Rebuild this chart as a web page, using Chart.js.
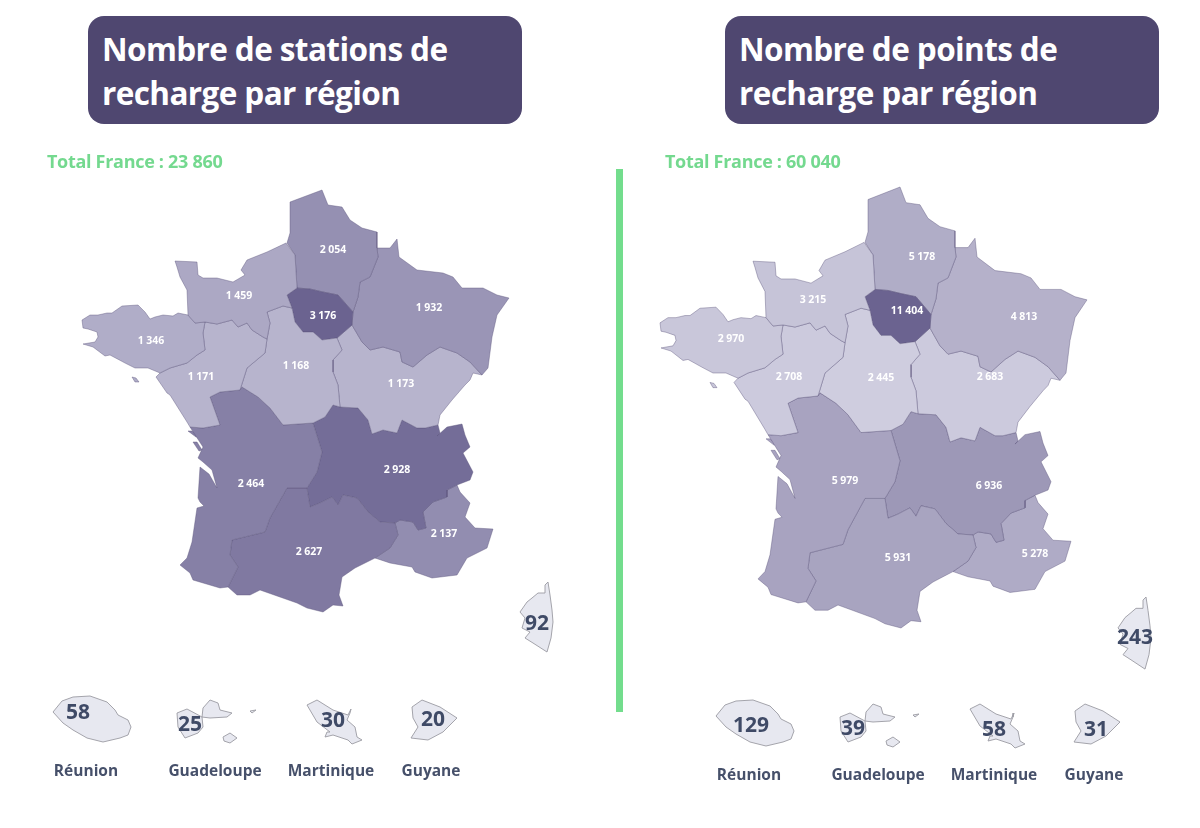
<!DOCTYPE html>
<html lang="fr">
<head>
<meta charset="utf-8">
<title>Stations et points de recharge par région</title>
<script src="https://cdn.jsdelivr.net/npm/chart.js@4"></script>
<style>
  html, body { margin: 0; background: #fff; }
  body { position: relative; width: 1200px; height: 828px; overflow: hidden; font-family: 'Open Sans', sans-serif; }
  canvas { position: absolute; top: 0; }
  #stationsMap { left: 0; }
  #pointsMap { left: 600px; }
  .title { position: absolute; top: 16px; width: 434px; height: 108px; box-sizing: border-box; padding: 11px 0 0 14px;
    background: #4f4770; border-radius: 16px; color: #fff; font-weight: 700; font-size: 31.5px; line-height: 44px; letter-spacing: -0.6px; }
  .total { position: absolute; top: 149px; color: #74d98f; font-weight: 700; font-size: 18px; line-height: 24px; letter-spacing: -0.3px; }
  #divider { position: absolute; left: 616px; top: 169px; width: 7px; height: 543px; background: #73dd8d; }
</style>
</head>
<body>
<canvas id="stationsMap" width="600" height="828"></canvas>
<canvas id="pointsMap" width="600" height="828"></canvas>
<div id="divider"></div>
<div class="title" style="left:88px">Nombre de stations de<br>recharge par région</div>
<div class="title" style="left:725px">Nombre de points de<br>recharge par région</div>
<div class="total" id="stationsTotal" style="left:47px"></div>
<div class="total" id="pointsTotal" style="left:665px"></div>
<script>
// Data
const regions = ['Normandie', 'Bretagne', 'Pays de la Loire', 'Centre-Val de Loire', 'Île-de-France', 'Hauts-de-France',
  'Grand Est', 'Bourgogne-Franche-Comté', 'Nouvelle-Aquitaine', 'Occitanie', 'Auvergne-Rhône-Alpes', 'PACA'];
const stationsByRegion = [1459, 1346, 1171, 1168, 3176, 2054, 1932, 1173, 2464, 2627, 2928, 2137];
const pointsByRegion = [3215, 2970, 2708, 2445, 11404, 5178, 4813, 2683, 5979, 5931, 6936, 5278];

const territories = ['Corse', 'Réunion', 'Guadeloupe', 'Martinique', 'Guyane'];
const stationsByTerritory = [92, 58, 25, 30, 20];
const pointsByTerritory = [243, 129, 39, 58, 31];

const stationsTotal = 23860;
const pointsTotal = 60040;

// Outlines, in the page coordinates of the left map
const regionShapes = [
  [[175,261],[197,262],[198,275],[203,278],[217,278],[233,282],[245,275],[241,270],[247,260],[267,252],[286,243],[295,255],[297,288],[287,295],[292,308],[283,306],[267,312],[270,323],[267,339],[263,337],[252,330],[247,323],[238,327],[232,320],[217,324],[205,322],[195,323],[188,315],[187,290],[180,277],[177,267]],
  [[82,320],[90,315],[98,315],[107,313],[112,313],[122,306],[138,305],[145,312],[150,319],[155,317],[163,315],[173,316],[178,313],[188,315],[195,323],[205,322],[203,333],[205,350],[197,355],[187,363],[170,368],[160,373],[148,368],[135,368],[125,363],[110,355],[105,356],[93,347],[83,344],[95,342],[98,337],[97,332],[88,329],[83,328]],
  [[205,322],[217,324],[232,320],[238,327],[247,323],[252,330],[263,337],[267,339],[265,353],[247,368],[240,390],[220,392],[210,397],[220,425],[203,428],[190,427],[187,422],[170,395],[167,393],[156,377],[160,373],[170,368],[187,363],[197,355],[205,350],[203,333]],
  [[267,312],[283,306],[292,308],[295,322],[303,332],[313,332],[322,340],[337,338],[342,350],[333,360],[333,372],[338,385],[340,407],[333,405],[325,417],[313,423],[283,425],[270,408],[258,397],[242,387],[240,390],[247,368],[265,353],[267,339],[270,323]],
  [[287,295],[297,288],[310,289],[323,292],[338,295],[353,312],[352,325],[337,338],[322,340],[313,332],[303,332],[295,322],[292,308]],
  [[290,202],[322,190],[328,205],[342,207],[350,220],[362,228],[377,232],[377,248],[378,257],[370,277],[360,282],[358,297],[353,312],[338,295],[323,292],[310,289],[297,288],[295,255],[287,243],[290,233]],
  [[377,248],[390,248],[397,239],[399,257],[417,270],[443,273],[453,277],[462,288],[483,288],[497,295],[509,298],[497,315],[492,337],[488,368],[482,375],[470,362],[457,353],[440,347],[427,355],[413,367],[402,362],[400,352],[383,347],[370,350],[362,342],[352,325],[353,312],[358,297],[360,282],[370,277],[378,257]],
  [[337,338],[352,325],[362,342],[370,350],[383,347],[400,352],[402,362],[413,367],[427,355],[440,347],[457,353],[470,362],[482,375],[473,373],[470,380],[465,385],[452,400],[440,415],[438,425],[425,428],[417,428],[402,420],[397,433],[383,430],[372,434],[368,420],[358,408],[340,407],[338,385],[333,372],[333,360],[342,350]],
  [[242,387],[258,397],[270,408],[283,425],[313,423],[322,452],[317,472],[307,488],[287,488],[270,518],[265,532],[232,540],[230,555],[238,567],[228,587],[220,588],[193,580],[190,573],[180,565],[187,558],[192,542],[197,508],[204,506],[200,502],[198,498],[200,467],[209,474],[217,488],[212,470],[203,462],[198,458],[203,447],[190,427],[203,428],[220,425],[210,397],[220,392],[240,390]],
  [[287,488],[307,488],[310,507],[320,503],[332,497],[338,505],[343,495],[357,498],[368,512],[380,522],[395,523],[398,535],[390,548],[375,558],[355,568],[342,577],[339,595],[343,606],[333,605],[323,612],[307,608],[297,603],[260,590],[250,595],[237,595],[228,587],[238,567],[230,555],[232,540],[265,532],[270,518]],
  [[333,405],[340,407],[358,408],[368,420],[372,434],[383,430],[397,433],[402,420],[417,428],[425,428],[438,425],[440,433],[437,436],[447,427],[462,424],[465,435],[470,447],[463,453],[473,472],[470,480],[457,485],[447,490],[447,497],[433,502],[423,512],[426,528],[418,530],[413,522],[400,520],[395,523],[380,522],[368,512],[357,498],[343,495],[338,505],[332,497],[320,503],[310,507],[307,488],[317,472],[322,452],[313,423],[325,417]],
  [[447,490],[457,485],[460,492],[470,503],[465,517],[475,528],[493,529],[487,548],[467,558],[457,575],[432,578],[415,572],[412,567],[390,563],[375,558],[390,548],[398,535],[395,523],[400,520],[413,522],[418,530],[426,528],[423,512],[433,502],[447,497]]
];

// Small islands off the coast: index of the region, then the outline
const coastalIslands = [
  [8, [[188,431],[192,431],[199,436],[196,437]]],
  [8, [[193,442],[197,442],[202,450],[199,451]]],
  [1, [[132,377],[136,378],[139,382],[135,382]]],
];

// Each territory can have several islands
const territoryShapes = [
  [[[548,582],[550,595],[552,610],[553,622],[551,638],[547,652],[533,643],[525,638],[530,632],[522,628],[525,618],[520,612],[527,602],[532,598],[538,593],[545,593],[545,585]]],
  [[[53,712],[62,701],[73,697],[90,696],[107,702],[115,710],[118,715],[128,720],[131,727],[128,735],[120,738],[103,742],[87,738],[73,730],[63,723]]],
  [[[177,713],[187,709],[202,717],[203,727],[198,733],[185,738],[178,727]],
   [[203,708],[210,700],[218,703],[220,710],[232,713],[227,717],[210,718],[202,717]],
   [[223,737],[230,733],[237,738],[230,743],[224,741]],
   [[250,711],[256,710],[252,713]]],
  [[[307,705],[317,700],[333,710],[348,715],[351,709],[350,713],[347,720],[355,727],[357,737],[362,740],[352,744],[348,740],[333,735],[325,737],[327,732],[330,732],[317,722]]],
  [[[412,707],[422,700],[440,707],[457,718],[443,732],[428,740],[411,738],[418,727],[413,718]]]
];

// Layout of the two maps
const stationsLayout = {
  regionLabels: [[239,296],[151,341],[201,377],[296,366],[323,316],[333,250],[429,308],[401,384],[251,484],[309,552],[397,470],[444,534]],
  territoryLabels: [[537,624],[78,713],[190,725],[333,721],[433,720]],
  territoryNames: [[86,771],[215,771],[331,771],[431,771]],
  lowColor: [183, 180, 205],
  highColor: [107, 99, 144],
  mainland: ([x, y]) => [x, y],
  corsica: ([x, y]) => [x, y],
  overseas: ([x, y]) => [x, y],
};
const pointsLayout = {
  regionLabels: [[813,300],[731,339],[789,377],[881,378],[907,311],[922,257],[1024,317],[990,377],[845,481],[898,558],[989,486],[1035,554]],
  territoryLabels: [[1135,638],[751,726],[853,729],[994,730],[1096,730]],
  territoryNames: [[749,775],[878,775],[994,775],[1094,775]],
  lowColor: [207, 205, 223],
  highColor: [107, 99, 144],
  mainland: ([x, y]) => [x + 578, 187 + (y - 190) * 1.045],
  corsica: ([x, y]) => [x + 598, 597 + (y - 582) * 1.03],
  overseas: ([x, y]) => [x + 663, y + 4],
};

const formatCount = (value) => String(value).replace(/\B(?=(\d{3})+$)/g, ' ');

const mixColor = (low, high, t) => {
  const channels = low.map((c, i) => Math.round(c + (high[i] - c) * t));
  return `rgb(${channels.join(',')})`;
};

const polygon = (shape, place, fillColor, borderColor) => {
  const points = shape.concat([shape[0]]).map(place).map(([x, y]) => ({ x, y }));
  return {
    data: points,
    showLine: true,
    fill: 'shape',
    tension: 0,
    pointRadius: 0,
    borderWidth: 0.9,
    borderColor,
    backgroundColor: fillColor,
  };
};

// Draws the value and name texts on top of the shapes
const textLabels = {
  id: 'textLabels',
  afterDatasetsDraw(chart, args, opts) {
    const { ctx, scales } = chart;
    ctx.save();
    ctx.textAlign = 'center';
    ctx.textBaseline = 'middle';
    opts.items.forEach((item) => {
      ctx.font = item.font;
      ctx.fillStyle = item.color;
      ctx.fillText(item.text, scales.x.getPixelForValue(item.at[0]), scales.y.getPixelForValue(item.at[1]));
    });
    ctx.restore();
  },
};

function drawMap(canvasId, regionValues, territoryValues, layout, xMin) {
  const low = Math.min(...regionValues);
  const high = Math.max(...regionValues);
  const regionColor = (i) => mixColor(layout.lowColor, layout.highColor, (regionValues[i] - low) / (high - low));
  const regionBorder = 'rgba(88,82,122,0.45)';

  const datasets = regionShapes.map((shape, i) => polygon(shape, layout.mainland, regionColor(i), regionBorder));
  coastalIslands.forEach(([region, shape]) => {
    datasets.push(polygon(shape, layout.mainland, regionColor(region), regionBorder));
  });
  territoryShapes.forEach((islands, i) => {
    const place = i === 0 ? layout.corsica : layout.overseas;
    islands.forEach((shape) => datasets.push(polygon(shape, place, '#e7e8f0', '#9b9ba3')));
  });

  const items = [];
  regionValues.forEach((value, i) => items.push({
    text: formatCount(value), at: layout.regionLabels[i], font: "700 10.5px 'Open Sans'", color: '#ffffff',
  }));
  territoryValues.forEach((value, i) => items.push({
    text: formatCount(value), at: layout.territoryLabels[i], font: "700 21px 'Open Sans'", color: '#3f4a66',
  }));
  territories.slice(1).forEach((name, i) => items.push({
    text: name, at: [layout.territoryNames[i][0], layout.territoryNames[i][1] + 1], font: "700 15.5px 'Open Sans'", color: '#46506a',
  }));

  return new Chart(document.getElementById(canvasId), {
    type: 'scatter',
    data: { datasets },
    options: {
      responsive: false,
      animation: false,
      events: [],
      layout: { padding: 0 },
      scales: {
        x: { type: 'linear', display: false, min: xMin, max: xMin + 600 },
        y: { type: 'linear', display: false, min: 0, max: 828, reverse: true },
      },
      plugins: {
        legend: { display: false },
        tooltip: { enabled: false },
        textLabels: { items },
      },
    },
    plugins: [textLabels],
  });
}

drawMap('stationsMap', stationsByRegion, stationsByTerritory, stationsLayout, 0);
drawMap('pointsMap', pointsByRegion, pointsByTerritory, pointsLayout, 600);

document.getElementById('stationsTotal').textContent = `Total France : ${formatCount(stationsTotal)}`;
document.getElementById('pointsTotal').textContent = `Total France : ${formatCount(pointsTotal)}`;
</script>
</body>
</html>
